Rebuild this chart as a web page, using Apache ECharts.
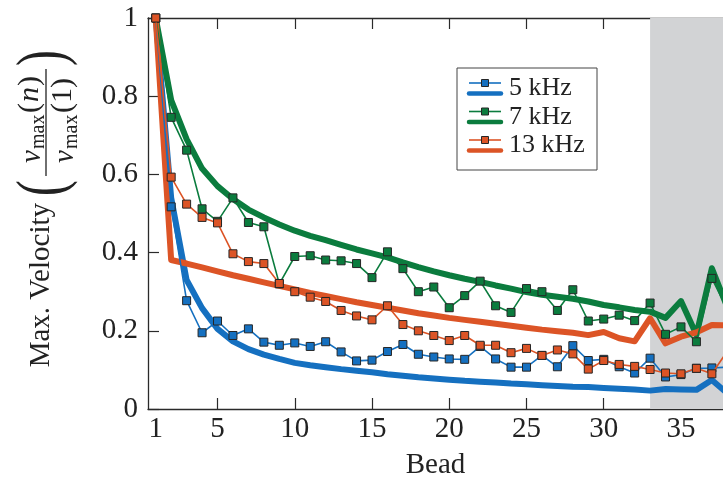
<!DOCTYPE html>
<html><head><meta charset="utf-8">
<script src="https://cdn.jsdelivr.net/npm/echarts@6/dist/echarts.min.js"></script>
<style>html,body{margin:0;padding:0;background:#fff}#c{width:723px;height:487px}</style>
</head><body><div id="c"></div>
<script>
// ---- data ----
const beads = [1,2,3,4,5,6,7,8,9,10,11,12,13,14,15,16,17,18,19,20,21,22,23,24,25,26,27,28,29,30,31,32,33,34,35,36,37,38];
// measured (thin lines with square markers)
const meas5 = [1.0,0.517,0.277,0.195,0.225,0.188,0.205,0.171,0.163,0.169,0.160,0.172,0.146,0.123,0.125,0.147,0.165,0.140,0.133,0.128,0.127,0.160,0.128,0.107,0.107,0.137,0.108,0.162,0.124,0.127,0.108,0.092,0.130,0.082,0.088,0.104,0.105,0.107];
const meas7 = [1.0,0.746,0.662,0.512,0.480,0.540,0.477,0.466,0.320,0.390,0.392,0.381,0.379,0.372,0.336,0.402,0.359,0.300,0.312,0.259,0.290,0.327,0.264,0.247,0.308,0.300,0.252,0.305,0.225,0.230,0.240,0.226,0.271,0.191,0.210,0.172,0.334,0.255];
const meas13 = [1.0,0.593,0.524,0.490,0.476,0.397,0.377,0.372,0.321,0.300,0.286,0.275,0.252,0.238,0.228,0.264,0.216,0.200,0.188,0.175,0.188,0.163,0.163,0.144,0.155,0.137,0.151,0.141,0.102,0.124,0.114,0.109,0.101,0.092,0.090,0.104,0.090,0.148];
// model (thick lines)
const model5 = [1.0,0.54,0.33,0.258,0.205,0.173,0.153,0.139,0.128,0.118,0.112,0.107,0.102,0.098,0.094,0.089,0.085,0.081,0.078,0.075,0.072,0.070,0.068,0.065,0.063,0.061,0.059,0.057,0.056,0.054,0.052,0.050,0.047,0.051,0.050,0.049,0.074,0.040];
const model7 = [1.0,0.79,0.69,0.615,0.570,0.537,0.510,0.490,0.472,0.456,0.443,0.432,0.420,0.408,0.398,0.388,0.375,0.363,0.352,0.342,0.333,0.325,0.316,0.308,0.299,0.292,0.287,0.282,0.275,0.266,0.260,0.253,0.249,0.233,0.276,0.190,0.360,0.260];
const model13 = [1.0,0.381,0.372,0.362,0.352,0.342,0.333,0.324,0.315,0.306,0.297,0.289,0.281,0.273,0.266,0.259,0.252,0.245,0.239,0.233,0.228,0.223,0.218,0.213,0.208,0.203,0.199,0.195,0.189,0.197,0.181,0.173,0.232,0.168,0.185,0.196,0.215,0.214];
const seriesNames = ['5 kHz','7 kHz','13 kHz'];
const xTickLabels = [1,5,10,15,20,25,30,35];
const xTickMarks = [5,10,15,20,25,30,35];
const shadeStart = 33;

// ---- styling ----
const colors = ['#1570c0','#0b7c3e','#dc5426'];
const FONT = '"Liberation Serif", "DejaVu Serif", serif';
const XMIN = 0.5, XMAX = 37.72;
const axisCol = '#2a2a2a';
const pairs = arr => beads.map((b,i)=>[b,arr[i]]);

const thick = (arr, c, z) => ({
  type:'line', data: pairs(arr), showSymbol:false, symbol:'none', z:z,
  lineStyle:{color:c,width:6,cap:'round',join:'round'}, silent:true, animation:false
});
const thin = (name, arr, c, z) => ({
  type:'line', name:name, data: pairs(arr), symbol:'rect', symbolSize:8, z:z,
  lineStyle:{color:c,width:1.6}, itemStyle:{color:c,borderColor:'#262626',borderWidth:1},
  animation:false
});

const s0 = thick(model5, colors[0], 3);
s0.markArea = {silent:true, itemStyle:{color:'#d2d3d5'}, z:1,
  data:[[{xAxis:shadeStart},{xAxis:XMAX}]]};

const chart = echarts.init(document.getElementById('c'));
const ticks = {show:true, inside:true, length:11, lineStyle:{color:axisCol,width:1.2}};

// legend graphic
const lgX = 457, lgY = 68;
const legendChildren = [
  {type:'rect', shape:{x:lgX, y:lgY, width:140, height:102}, style:{fill:'#fff', stroke:'#444', lineWidth:1}}
];
seriesNames.forEach((n,i)=>{
  const yThin = lgY + 15 + i*28.5, yThick = yThin + 10.5;
  legendChildren.push(
    {type:'line', shape:{x1:469,y1:yThin,x2:501,y2:yThin}, style:{stroke:colors[i], lineWidth:1.6}},
    {type:'rect', shape:{x:481.5,y:yThin-3.5,width:7,height:7}, style:{fill:colors[i], stroke:'#262626', lineWidth:1}},
    {type:'line', shape:{x1:469,y1:yThick,x2:501,y2:yThick}, style:{stroke:colors[i], lineWidth:4.5, lineCap:'round'}},
    {type:'text', x:509, y:(yThin+yThick)/2, style:{text:n, font:'26px '+FONT, fill:'#222', align:'left', verticalAlign:'middle'}}
  );
});

// y-axis title (rotated)
const T = '#222';
const yTitle = {type:'group', x:45, y:210, rotation:Math.PI/2, children:[
  {type:'text', x:7, y:-4, style:{text:'Max. Velocity', font:'29px '+FONT, fill:T, align:'right', verticalAlign:'middle'}},
  {type:'text', x:22, y:0, scaleX:0.7, style:{text:'(', font:'68px '+FONT, fill:T, align:'center', verticalAlign:'middle'}},
  {type:'text', x:152, y:0, scaleX:0.7, style:{text:')', font:'68px '+FONT, fill:T, align:'center', verticalAlign:'middle'}},
  {type:'line', shape:{x1:34,y1:1,x2:141,y2:1}, style:{stroke:T, lineWidth:1.3}},
  // numerator
  {type:'text', x:47, y:-13, style:{text:'v', font:'italic 29px '+FONT, fill:T, align:'left', verticalAlign:'middle'}},
  {type:'text', x:61, y:-6, style:{text:'max', font:'20px '+FONT, fill:T, align:'left', verticalAlign:'middle'}},
  {type:'text', x:97, y:-15, style:{text:'(', font:'30px '+FONT, fill:T, align:'left', verticalAlign:'middle'}},
  {type:'text', x:108, y:-15, style:{text:'n', font:'italic 30px '+FONT, fill:T, align:'left', verticalAlign:'middle'}},
  {type:'text', x:124, y:-15, style:{text:')', font:'30px '+FONT, fill:T, align:'left', verticalAlign:'middle'}},
  // denominator
  {type:'text', x:47, y:20, style:{text:'v', font:'italic 29px '+FONT, fill:T, align:'left', verticalAlign:'middle'}},
  {type:'text', x:61, y:27, style:{text:'max', font:'20px '+FONT, fill:T, align:'left', verticalAlign:'middle'}},
  {type:'text', x:97, y:18, style:{text:'(1)', font:'30px '+FONT, fill:T, align:'left', verticalAlign:'middle'}}
]};

chart.setOption({
  animation:false,
  grid:{left:148, top:18, right:0, bottom:78, containLabel:false},
  xAxis:[
    {type:'value', min:XMIN, max:XMAX, position:'bottom',
     axisLine:{show:true, onZero:false, lineStyle:{color:axisCol,width:1.3}},
     axisTick:Object.assign({customValues:xTickMarks}, ticks),
     axisLabel:{customValues:xTickLabels, fontFamily:FONT, fontSize:29, color:T, margin:6},
     splitLine:{show:false},
     name:'Bead', nameLocation:'middle', nameGap:42,
     nameTextStyle:{fontFamily:FONT, fontSize:29, color:T}},
    {type:'value', min:XMIN, max:XMAX, position:'top',
     axisLine:{show:true, onZero:false, lineStyle:{color:axisCol,width:1.3}},
     axisTick:Object.assign({customValues:xTickMarks}, ticks),
     axisLabel:{show:false}, splitLine:{show:false}}
  ],
  yAxis:{type:'value', min:0, max:1, interval:0.2,
    axisLine:{show:true, lineStyle:{color:axisCol,width:1.3}},
    axisTick:ticks,
    axisLabel:{fontFamily:FONT, fontSize:29, color:T, margin:10,
      formatter:v=> (v===0?'0':(v===1?'1':v.toFixed(1)))},
    splitLine:{show:false}},
  graphic:[yTitle].concat(legendChildren),
  series:[
    s0,
    thick(model7, colors[1], 3),
    thick(model13, colors[2], 3),
    thin(seriesNames[0], meas5, colors[0], 4),
    thin(seriesNames[1], meas7, colors[1], 5),
    thin(seriesNames[2], meas13, colors[2], 6)
  ]
});
</script>
</body></html>
